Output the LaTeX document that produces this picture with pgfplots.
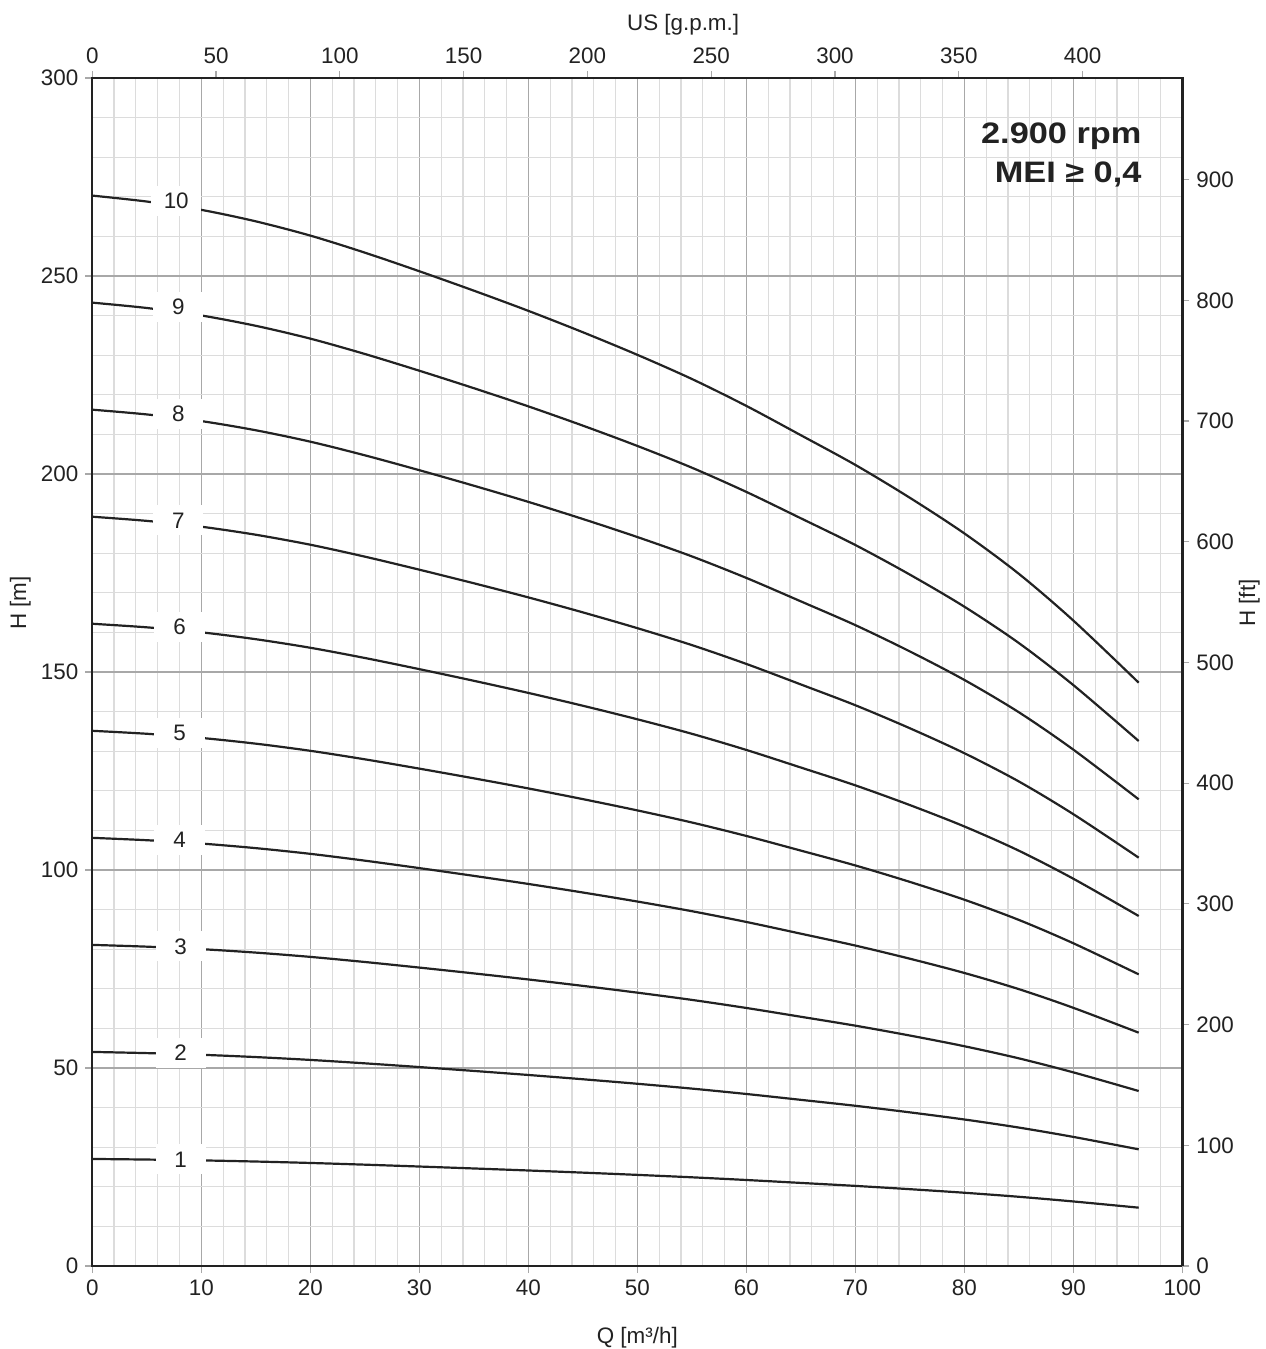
\documentclass[border=0pt]{standalone}
\usepackage{pgfplots}
\pgfplotsset{compat=1.18}
\usepackage{fontspec}
\setmainfont{Liberation Sans}
\definecolor{minorg}{HTML}{DCDCDC}
\definecolor{majorg}{HTML}{A8A8A8}
\definecolor{ink}{HTML}{222222}
\newcommand{\tfont}{\fontsize{11.2}{13}\selectfont}
\tikzset{cv/.style={ink, line width=1.1pt, smooth, mark=none}}
\begin{document}
\begin{tikzpicture}
\pgfplotsset{
  common/.style={
    width=545pt, height=594pt, scale only axis,
    tick align=outside,
    major tick length=3.5pt, minor tick length=0pt,
    tick style={majorg, line width=0.6pt},
    axis line style={ink, line width=1.2pt},
    ticklabel style={font=\tfont, text=ink},
    label style={font=\tfont, text=ink},
    /pgf/number format/assume math mode=true,
    /pgf/number format/1000 sep={},
  }
}
\begin{axis}[common,
  xmin=0, xmax=100, ymin=0, ymax=300,
  xtick={0,10,...,100}, ytick={0,50,...,300},
  minor x tick num=4, minor y tick num=4,
  grid=both,
  minor grid style={minorg, line width=0.6pt},
  major grid style={majorg, line width=0.6pt},
  xtick pos=bottom, ytick pos=left,
  xlabel={Q [m³/h]}, ylabel={H [m]},
  xlabel style={at={(axis description cs:0.5,-0.06)}, anchor=center},
  ylabel style={at={(axis description cs:-0.066,0.558)}, anchor=center},
]
\coordinate (SW) at (rel axis cs:0,0);
\coordinate (NE) at (rel axis cs:1,1);
\addplot[cv] coordinates {(0,27.03)(5,26.88)(10,26.67)(15,26.38)(20,26.02)(25,25.59)(30,25.12)(35,24.63)(40,24.12)(45,23.58)(50,23.01)(55,22.40)(60,21.72)(65,20.98)(70,20.23)(75,19.40)(80,18.50)(85,17.48)(90,16.30)(96,14.73)};
\addplot[cv] coordinates {(0,54.06)(5,53.76)(10,53.34)(15,52.76)(20,52.04)(25,51.18)(30,50.24)(35,49.26)(40,48.24)(45,47.16)(50,46.02)(55,44.80)(60,43.44)(65,41.96)(70,40.46)(75,38.80)(80,37.00)(85,34.96)(90,32.60)(96,29.46)};
\addplot[cv] coordinates {(0,81.09)(5,80.64)(10,80.01)(15,79.14)(20,78.06)(25,76.77)(30,75.36)(35,73.89)(40,72.36)(45,70.74)(50,69.03)(55,67.20)(60,65.16)(65,62.94)(70,60.69)(75,58.20)(80,55.50)(85,52.44)(90,48.90)(96,44.19)};
\addplot[cv] coordinates {(0,108.12)(5,107.52)(10,106.68)(15,105.52)(20,104.08)(25,102.36)(30,100.48)(35,98.52)(40,96.48)(45,94.32)(50,92.04)(55,89.60)(60,86.88)(65,83.92)(70,80.92)(75,77.60)(80,74.00)(85,69.92)(90,65.20)(96,58.92)};
\addplot[cv] coordinates {(0,135.15)(5,134.40)(10,133.35)(15,131.90)(20,130.10)(25,127.95)(30,125.60)(35,123.15)(40,120.60)(45,117.90)(50,115.05)(55,112.00)(60,108.60)(65,104.90)(70,101.15)(75,97.00)(80,92.50)(85,87.40)(90,81.50)(96,73.65)};
\addplot[cv] coordinates {(0,162.18)(5,161.28)(10,160.02)(15,158.28)(20,156.12)(25,153.54)(30,150.72)(35,147.78)(40,144.72)(45,141.48)(50,138.06)(55,134.40)(60,130.32)(65,125.88)(70,121.38)(75,116.40)(80,111.00)(85,104.88)(90,97.80)(96,88.38)};
\addplot[cv] coordinates {(0,189.21)(5,188.16)(10,186.69)(15,184.66)(20,182.14)(25,179.13)(30,175.84)(35,172.41)(40,168.84)(45,165.06)(50,161.07)(55,156.80)(60,152.04)(65,146.86)(70,141.61)(75,135.80)(80,129.50)(85,122.36)(90,114.10)(96,103.11)};
\addplot[cv] coordinates {(0,216.24)(5,215.04)(10,213.36)(15,211.04)(20,208.16)(25,204.72)(30,200.96)(35,197.04)(40,192.96)(45,188.64)(50,184.08)(55,179.20)(60,173.76)(65,167.84)(70,161.84)(75,155.20)(80,148.00)(85,139.84)(90,130.40)(96,117.84)};
\addplot[cv] coordinates {(0,243.27)(5,241.92)(10,240.03)(15,237.42)(20,234.18)(25,230.31)(30,226.08)(35,221.67)(40,217.08)(45,212.22)(50,207.09)(55,201.60)(60,195.48)(65,188.82)(70,182.07)(75,174.60)(80,166.50)(85,157.32)(90,146.70)(96,132.57)};
\addplot[cv] coordinates {(0,270.30)(5,268.80)(10,266.70)(15,263.80)(20,260.20)(25,255.90)(30,251.20)(35,246.30)(40,241.20)(45,235.80)(50,230.10)(55,224.00)(60,217.20)(65,209.80)(70,202.30)(75,194.00)(80,185.00)(85,174.80)(90,163.00)(96,147.30)};
\tikzset{lbl/.style={fill=white, inner sep=0pt, minimum width=25pt, minimum height=15pt, font=\tfont, text=ink}}
\node[lbl] at (axis cs:8.1,26.9) {1};
\node[lbl] at (axis cs:8.1,53.8) {2};
\node[lbl] at (axis cs:8.1,80.7) {3};
\node[lbl] at (axis cs:8.0,107.6) {4};
\node[lbl] at (axis cs:8.0,134.5) {5};
\node[lbl] at (axis cs:8.0,161.4) {6};
\node[lbl] at (axis cs:7.9,188.3) {7};
\node[lbl] at (axis cs:7.9,215.2) {8};
\node[lbl] at (axis cs:7.9,242.1) {9};
\node[lbl] at (axis cs:7.7,269.0) {10};
\node[anchor=east, align=right, text=ink, font=\bfseries\fontsize{14.8}{19.5}\selectfont] at (axis cs:96.9,280.6) {\scalebox{1.16}[1]{2.900 rpm}\\\scalebox{1.16}[1]{MEI ≥ 0,4}};
\end{axis}
\begin{axis}[common,
  xmin=0, xmax=440.29, ymin=0, ymax=984.25,
  xtick={0,50,...,400}, ytick={0,100,...,900},
  axis x line*=top, axis y line*=right,
  xlabel={US [g.p.m.]}, ylabel={H [ft]},
  xlabel style={at={(axis description cs:0.542,1.0446)}, anchor=center},
  ylabel style={at={(axis description cs:1.0615,0.558)}, anchor=center},
]
\addplot[draw=none] coordinates {(0,0)};
\end{axis}
\pgfresetboundingbox
\path[use as bounding box] ([xshift=-46.15pt,yshift=-41.5pt]SW) rectangle ([xshift=41.35pt,yshift=39pt]NE);
\end{tikzpicture}
\end{document}
